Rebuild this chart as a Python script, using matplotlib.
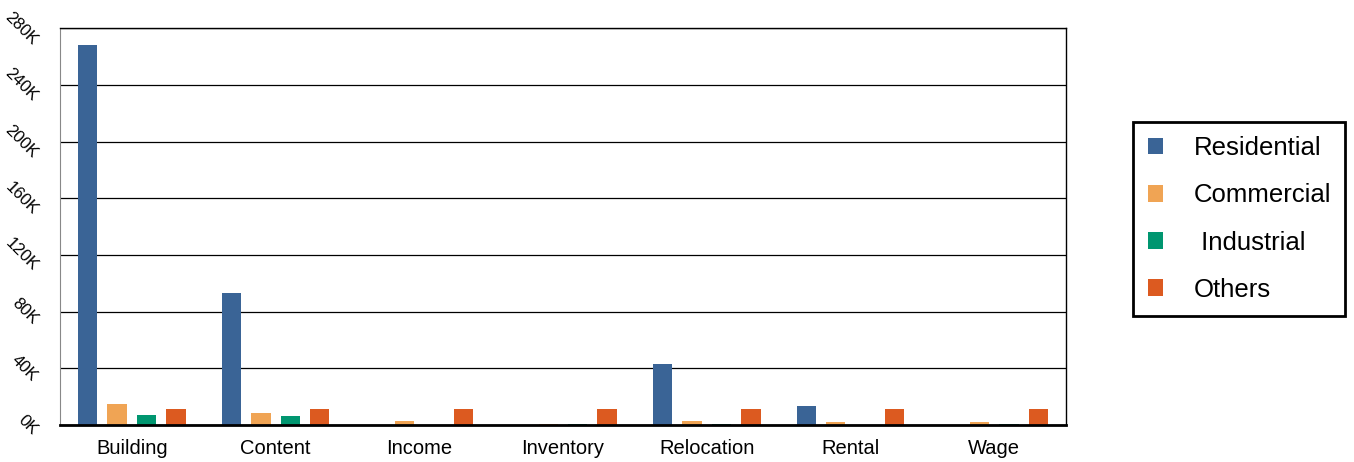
import numpy as np
import matplotlib.pyplot as plt
from matplotlib.ticker import FuncFormatter

plt.rcParams['font.family'] = ['Liberation Sans', 'DejaVu Sans']

# Données
categories = ['Building', 'Content', 'Income', 'Inventory', 'Relocation', 'Rental', 'Wage']
series = ['Residential', 'Commercial', ' Industrial', 'Others']
residential = [268000, 93500, 0, 0, 43000, 13500, 300]
commercial = [14800, 8300, 2500, 500, 3000, 2000, 2000]
industrial = [7000, 6300, 0, 1000, 600, 0, 500]
others = [11000, 11000, 11000, 11000, 11000, 11000, 11000]
colors = ['#3a6496', '#f0a454', '#009670', '#dc5a20']

values = [residential, commercial, industrial, others]

fig = plt.figure(figsize=(13.54, 4.62), dpi=100)
ax = fig.add_axes([0.0443, 0.080, 0.7430, 0.859])

x = np.arange(len(categories))
width = 0.135
step = 0.205
for i, (vals, name, c) in enumerate(zip(values, series, colors)):
    ax.bar(x + (i - 1.5) * step, vals, width, color=c, label=name, zorder=3)

ax.set_xlim(-0.5, len(categories) - 0.5)
ax.set_ylim(0, 280000)
ax.set_yticks(np.arange(0, 280001, 40000))
ax.yaxis.set_major_formatter(FuncFormatter(lambda v, p: f'{int(v / 1000)}K'))
ax.set_xticks(x)
ax.set_xticklabels(categories, fontsize=14.5)
for lab in ax.get_yticklabels():
    lab.set_rotation(-45)
    lab.set_fontsize(12)
    lab.set_ha('right')
    lab.set_va('center')
ax.tick_params(axis='both', length=0)
ax.tick_params(axis='y', pad=14)
ax.tick_params(axis='x', pad=10)
ax.grid(axis='y', color='black', linewidth=0.9, zorder=0)

for s in ['top', 'right']:
    ax.spines[s].set_color('black')
    ax.spines[s].set_linewidth(1.0)
ax.spines['left'].set_color('#888888')
ax.spines['bottom'].set_linewidth(2.0)
ax.spines['bottom'].set_zorder(4)

leg = fig.legend(loc='center', bbox_to_anchor=(0.9154, 0.526), fontsize=18.5,
                 frameon=True, fancybox=False, edgecolor='black', framealpha=1,
                 handlelength=0.6, handleheight=0.6, labelspacing=0.9,
                 borderpad=0.55, handletextpad=1.2)
leg.get_frame().set_linewidth(2.0)

plt.savefig('out.png', dpi=100)
